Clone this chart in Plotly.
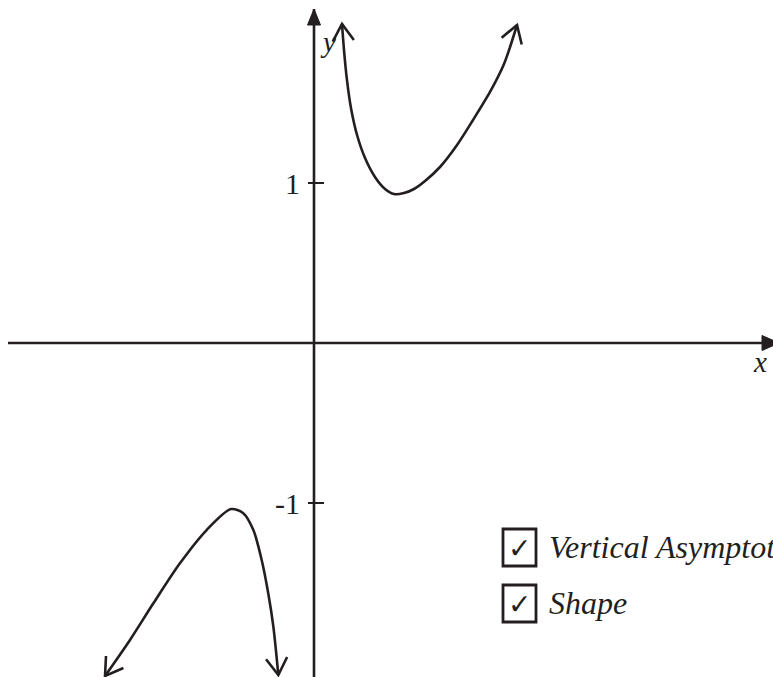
import math
import plotly.graph_objects as go

# ---- data (axis units: 1 unit = tick spacing) ----
upper_x = [0.175, 0.1875, 0.206, 0.231, 0.269, 0.319, 0.381, 0.444, 0.500, 0.5625, 0.625, 0.694, 0.7875, 0.894, 0.994, 1.100, 1.1875, 1.269]
upper_y = [1.994, 1.831, 1.644, 1.469, 1.300, 1.156, 1.038, 0.963, 0.931, 0.9375, 0.9625, 1.0125, 1.100, 1.2375, 1.394, 1.569, 1.744, 1.9875]
lower_x = [-1.306, -1.150, -1.004, -0.838, -0.671, -0.519, -0.442, -0.379, -0.327, -0.286, -0.254, -0.223]
lower_y = [-2.081, -1.856, -1.627, -1.377, -1.169, -1.038, -1.064, -1.169, -1.356, -1.564, -1.773, -2.075]
tick_values = [1, -1]
tick_labels = ["1", "-1"]
check_labels = ["Vertical Asymptote", "Shape"]

W, H = 773, 677
OX, OY, UNIT = 314, 343, 160.0
x_range = [(0 - OX) / UNIT, (W - OX) / UNIT]
y_range = [(OY - H) / UNIT, OY / UNIT]

def px(v):
    return (v - OX) / UNIT

def py(v):
    return (OY - v) / UNIT

INK = "#231f20"
FONT = "Liberation Serif, Times New Roman, serif"

fig = go.Figure()


def head(tip_x, tip_y, prev_x, prev_y, length, half_angle):
    """Arm end points (data units) of an arrowhead at tip, pointing away from prev."""
    dx, dy = tip_x - prev_x, tip_y - prev_y
    n = math.hypot(dx, dy)
    dx, dy = dx / n, dy / n
    arms = []
    for s in (1, -1):
        c, si = math.cos(s * half_angle), math.sin(s * half_angle)
        rx, ry = dx * c - dy * si, dx * si + dy * c
        arms.append((tip_x - rx * length / UNIT, tip_y - ry * length / UNIT))
    return arms


def add_axis(x0, y0, x1, y1, length, half_width):
    fig.add_trace(go.Scatter(x=[x0, x1], y=[y0, y1], mode="lines", line=dict(color=INK, width=2.6),
                             hoverinfo="skip", showlegend=False, cliponaxis=False))
    half_angle = math.atan(half_width / length)
    L = math.hypot(length, half_width)
    (ax, ay), (bx, by) = head(x1, y1, x0, y0, L, half_angle)
    fig.add_trace(go.Scatter(x=[x1, ax, bx, x1], y=[y1, ay, by, y1], mode="lines", fill="toself",
                             fillcolor=INK, line=dict(color=INK, width=1),
                             hoverinfo="skip", showlegend=False, cliponaxis=False))


add_axis(px(8), 0, px(779), 0, 17, 7.5)
add_axis(0, py(H + 5), 0, py(9), 16, 6.5)

# curves
for xs, ys in [(upper_x, upper_y), (lower_x, lower_y)]:
    fig.add_trace(go.Scatter(x=xs, y=ys, mode="lines", line=dict(color=INK, width=2.6, shape="spline", smoothing=0.8),
                             hoverinfo="skip", showlegend=False, cliponaxis=False))
    for a, b in [(1, 0), (-2, -1)]:
        (ax, ay), (bx, by) = head(xs[b], ys[b], xs[a], ys[a], 20, math.radians(32))
        fig.add_trace(go.Scatter(x=[ax, xs[b], bx], y=[ay, ys[b], by], mode="lines",
                                 line=dict(color=INK, width=2.6),
                                 hoverinfo="skip", showlegend=False, cliponaxis=False))

# ticks and tick labels
shapes = []
annotations = []
for v, lab in zip(tick_values, tick_labels):
    shapes.append(dict(type="line", x0=-6 / UNIT, x1=10 / UNIT, y0=v, y1=v, line=dict(color=INK, width=2)))
    annotations.append(dict(x=px(302), y=v, text=lab, showarrow=False, xanchor="right", yanchor="middle",
                            font=dict(family=FONT, size=30, color=INK)))

annotations.append(dict(x=px(318), y=py(42), text="<i>y</i>", showarrow=False, xanchor="left", yanchor="middle",
                        font=dict(family=FONT, size=29, color=INK)))
annotations.append(dict(x=px(751), y=py(362), text="<i>x</i>", showarrow=False, xanchor="left", yanchor="middle",
                        font=dict(family=FONT, size=29, color=INK)))

# checklist
box_tops = [529, 585]
for top, lab in zip(box_tops, check_labels):
    shapes.append(dict(type="rect", x0=px(503), x1=px(536), y0=py(top), y1=py(top + 37),
                       line=dict(color=INK, width=2.8)))
    annotations.append(dict(x=px(519.5), y=py(top + 19), text="✓", showarrow=False, xanchor="center",
                            yanchor="middle", font=dict(family="DejaVu Sans", size=28, color=INK)))
    annotations.append(dict(x=px(547), y=py(top + 18), text="<i>" + lab + "</i>", showarrow=False,
                            xanchor="left", yanchor="middle", font=dict(family=FONT, size=32, color=INK)))

fig.update_layout(
    width=W, height=H, margin=dict(l=0, r=0, t=0, b=0),
    paper_bgcolor="white", plot_bgcolor="white",
    xaxis=dict(range=x_range, visible=False, fixedrange=True),
    yaxis=dict(range=y_range, visible=False, fixedrange=True),
    shapes=shapes, annotations=annotations, showlegend=False,
)

fig.write_html("out.html", config={"displayModeBar": False},
               post_script="document.body.style.margin='0px';document.body.style.overflow='hidden';")
